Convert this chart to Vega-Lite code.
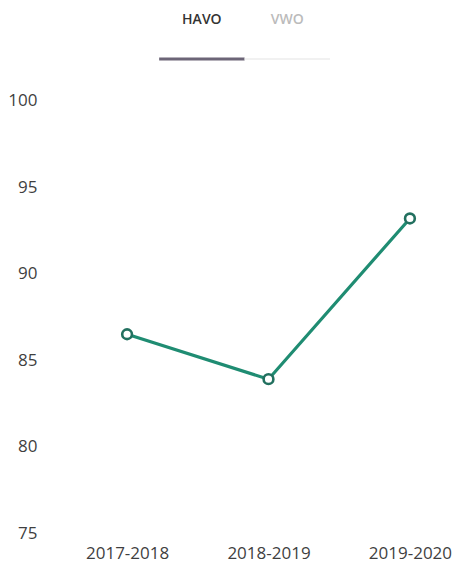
{
  "$schema": "https://vega.github.io/schema/vega-lite/v6.json",
  "width": 381,
  "height": 533,
  "autosize": {"type": "none"},
  "padding": {"left": 78, "top": 0, "right": 0, "bottom": 31},
  "background": "white",
  "config": {
    "view": {"stroke": null},
    "font": "Open Sans",
    "axis": {"labelFont": "Open Sans", "labelColor": "#3f3f3f", "labelFontSize": 17, "labelFontWeight": "normal"}
  },
  "datasets": {
    "scores": [
      {"year": "2017-2018", "score": 86.5},
      {"year": "2018-2019", "score": 83.9},
      {"year": "2019-2020", "score": 93.2}
    ],
    "tabs": [
      {"tab": "HAVO", "start": 0, "end": 1, "mid": 0.5, "state": "active", "textRow": 0.5, "lineRow": 1.47},
      {"tab": "VWO", "start": 1, "end": 2, "mid": 1.5, "state": "inactive", "textRow": 0.5, "lineRow": 1.47}
    ]
  },
  "layer": [
    {
      "data": {"name": "scores"},
      "encoding": {
        "x": {
          "field": "year", "type": "ordinal",
          "scale": {"type": "point", "padding": 0.347},
          "axis": {"title": null, "domain": false, "ticks": false, "tickSize": 0, "grid": false, "labelAngle": 0, "labelPadding": 12}
        },
        "y": {
          "field": "score", "type": "quantitative",
          "scale": {"domain": [75, 105.84], "nice": false, "zero": false},
          "axis": {"title": null, "domain": false, "ticks": false, "tickSize": 0, "grid": false, "values": [75, 80, 85, 90, 95, 100], "labelPadding": 41}
        }
      },
      "layer": [
        {"mark": {"type": "line", "color": "#1f8c72", "strokeWidth": 3.2}},
        {"mark": {"type": "point", "filled": true, "fill": "white", "stroke": "#22705f", "strokeWidth": 2.6, "size": 95, "opacity": 1}}
      ]
    },
    {
      "data": {"name": "tabs"},
      "layer": [
        {
          "mark": {"type": "rule"},
          "encoding": {
            "x": {"field": "start", "type": "quantitative", "scale": {"domain": [-0.95, 3.51], "nice": false, "zero": false}, "axis": null},
            "x2": {"field": "end"},
            "y": {"field": "lineRow", "type": "quantitative", "scale": {"domain": [0, 13.3], "reverse": true, "nice": false, "zero": false}, "axis": null},
            "stroke": {"field": "state", "type": "nominal", "scale": {"domain": ["active", "inactive"], "range": ["#6c6577", "#ececec"]}, "legend": null},
            "strokeWidth": {"field": "state", "type": "nominal", "scale": {"domain": ["active", "inactive"], "range": [3, 1.5]}, "legend": null}
          }
        },
        {
          "mark": {"type": "text", "fontSize": 14, "fontWeight": 600, "baseline": "middle", "align": "center"},
          "encoding": {
            "x": {"field": "mid", "type": "quantitative", "scale": {"domain": [-0.95, 3.51], "nice": false, "zero": false}, "axis": null},
            "y": {"field": "textRow", "type": "quantitative", "scale": {"domain": [0, 13.3], "reverse": true, "nice": false, "zero": false}, "axis": null},
            "text": {"field": "tab"},
            "fill": {"field": "state", "type": "nominal", "scale": {"domain": ["active", "inactive"], "range": ["#333333", "#bbbbbb"]}, "legend": null}
          }
        }
      ],
      "resolve": {"scale": {"fill": "independent", "stroke": "independent"}}
    }
  ],
  "resolve": {"scale": {"x": "independent", "y": "independent", "stroke": "independent", "fill": "independent", "strokeWidth": "independent"}}
}
